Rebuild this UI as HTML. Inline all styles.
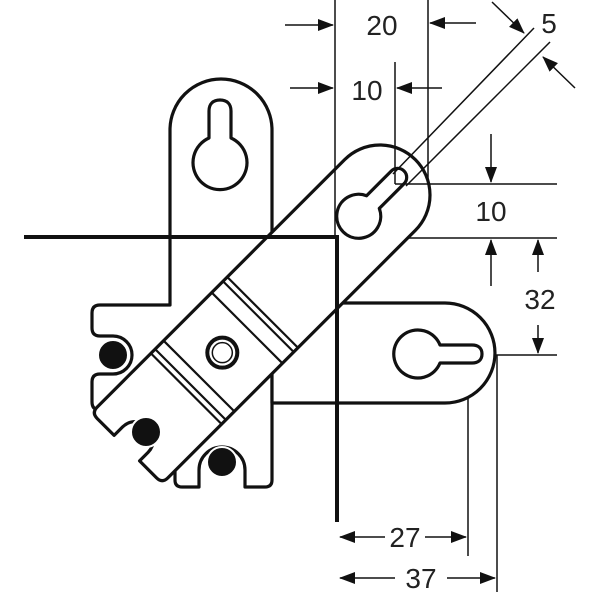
<!DOCTYPE html>
<html><head><style>html,body{margin:0;padding:0;background:#fff}svg{display:block}</style></head>
<body>
<svg width="600" height="600" viewBox="0 0 600 600" xmlns="http://www.w3.org/2000/svg">
<defs>
<marker id="a" markerWidth="16" markerHeight="12" refX="15" refY="6" orient="auto" markerUnits="userSpaceOnUse">
<path d="M0,0 L16,6 L0,12 Z" fill="#111"/></marker>
</defs>
<g fill="none" stroke="#111" stroke-width="1.5">
<line x1="340" y1="238" x2="557" y2="238"/>
<line x1="470" y1="355" x2="557" y2="355"/>
<line x1="468" y1="355" x2="468" y2="556"/>
<line x1="497" y1="355" x2="497" y2="592"/>
<line x1="285" y1="25" x2="333" y2="25" marker-end="url(#a)"/>
<line x1="476" y1="23" x2="430" y2="23" marker-end="url(#a)"/>
<line x1="290" y1="88" x2="333" y2="88" marker-end="url(#a)"/>
<line x1="442" y1="88" x2="397" y2="88" marker-end="url(#a)"/>
<line x1="492" y1="2" x2="524" y2="33" marker-end="url(#a)"/>
<line x1="575" y1="88" x2="543" y2="57" marker-end="url(#a)"/>
<line x1="491" y1="134" x2="491" y2="182" marker-end="url(#a)"/>
<line x1="491" y1="286" x2="491" y2="240" marker-end="url(#a)"/>
<line x1="538" y1="272" x2="538" y2="240" marker-end="url(#a)"/>
<line x1="538" y1="325" x2="538" y2="353" marker-end="url(#a)"/>
<line x1="385" y1="537" x2="340" y2="537" marker-end="url(#a)"/>
<line x1="425" y1="537" x2="466" y2="537" marker-end="url(#a)"/>
<line x1="395" y1="578" x2="340" y2="578" marker-end="url(#a)"/>
<line x1="447" y1="578" x2="495" y2="578" marker-end="url(#a)"/>
</g>
<g stroke="#111" stroke-width="3.2" fill="#fff" stroke-linejoin="round">
<path d="M170,305 V130 A51,51 0 0 1 272,130 V480 q0,7 -7,7 H245 V470 a23,23 0 0 0 -46,0 V487 H182 q-7,0 -7,-7 V420 L110,410 H100 q-8,0 -8,-8 V382 q0,-8 8,-8 H113 a19,19 0 0 0 0,-38 H100 q-8,0 -8,-8 V313 q0,-8 8,-8 Z"/>
<path d="M220,100 c-7,0 -11,4 -11,11 V138 a27,27 0 1 0 22,0 V111 c0,-7 -4,-11 -11,-11 Z"/>
<path d="M272,403 H445 A50,50 0 0 0 445,303 H330 L272,361 Z"/>
<path d="M482,354 c0,-6 -4,-9 -10,-9 H440 a24,24 0 1 0 0,18 H472 c6,0 10,-3 10,-9 Z"/>
<g transform="translate(380,195) rotate(135)">
<path d="M0,50 H350 q8,0 8,-8 V18 H346 A18,18 0 0 1 346,-18 H358 V-42 q0,-8 -8,-8 H0 A50,50 0 0 0 0,50 Z"/>
<path d="M-25,-9 a9,9 0 0 0 0,18 H10 a22,22 0 1 0 0,-18 Z"/>
<g fill="none" stroke-width="2.2">
<line x1="166" y1="-50" x2="166" y2="50"/>
<line x1="172" y1="-50" x2="172" y2="50"/>
<line x1="188" y1="-50" x2="188" y2="50"/>
<line x1="256" y1="-50" x2="256" y2="50"/>
<line x1="268" y1="-50" x2="268" y2="50"/>
<line x1="274" y1="-50" x2="274" y2="50"/>
</g>
<circle cx="223" cy="0" r="15" fill="#fff" stroke-width="4"/>
<circle cx="223" cy="0" r="10" fill="#fff" stroke-width="1.5"/>
</g>
</g>
<g fill="none" stroke="#111" stroke-width="1.5">
<line x1="335" y1="0" x2="335" y2="237"/>
<line x1="428" y1="0" x2="428" y2="185"/>
<line x1="395" y1="62" x2="395" y2="184"/>
<line x1="395" y1="184" x2="557" y2="184"/>
<line x1="393" y1="174" x2="534" y2="28"/>
<line x1="406" y1="186" x2="550" y2="42"/>
</g>
<g fill="#111" stroke="#fff" stroke-width="2">
<circle cx="113" cy="355" r="15"/>
<circle cx="146" cy="432" r="15"/>
<circle cx="222" cy="462" r="15"/>
</g>
<g stroke="#111" stroke-width="4">
<line x1="24" y1="237" x2="339" y2="237"/>
<line x1="337" y1="235" x2="337" y2="522"/>
</g>
<g font-family="Liberation Sans, sans-serif" font-size="28" fill="#222" text-anchor="middle">
<text x="382" y="35">20</text>
<text x="367" y="100">10</text>
<text x="549" y="33">5</text>
<text x="491" y="221">10</text>
<text x="540" y="309">32</text>
<text x="405" y="547">27</text>
<text x="421" y="588">37</text>
</g>
</svg>
</body></html>
